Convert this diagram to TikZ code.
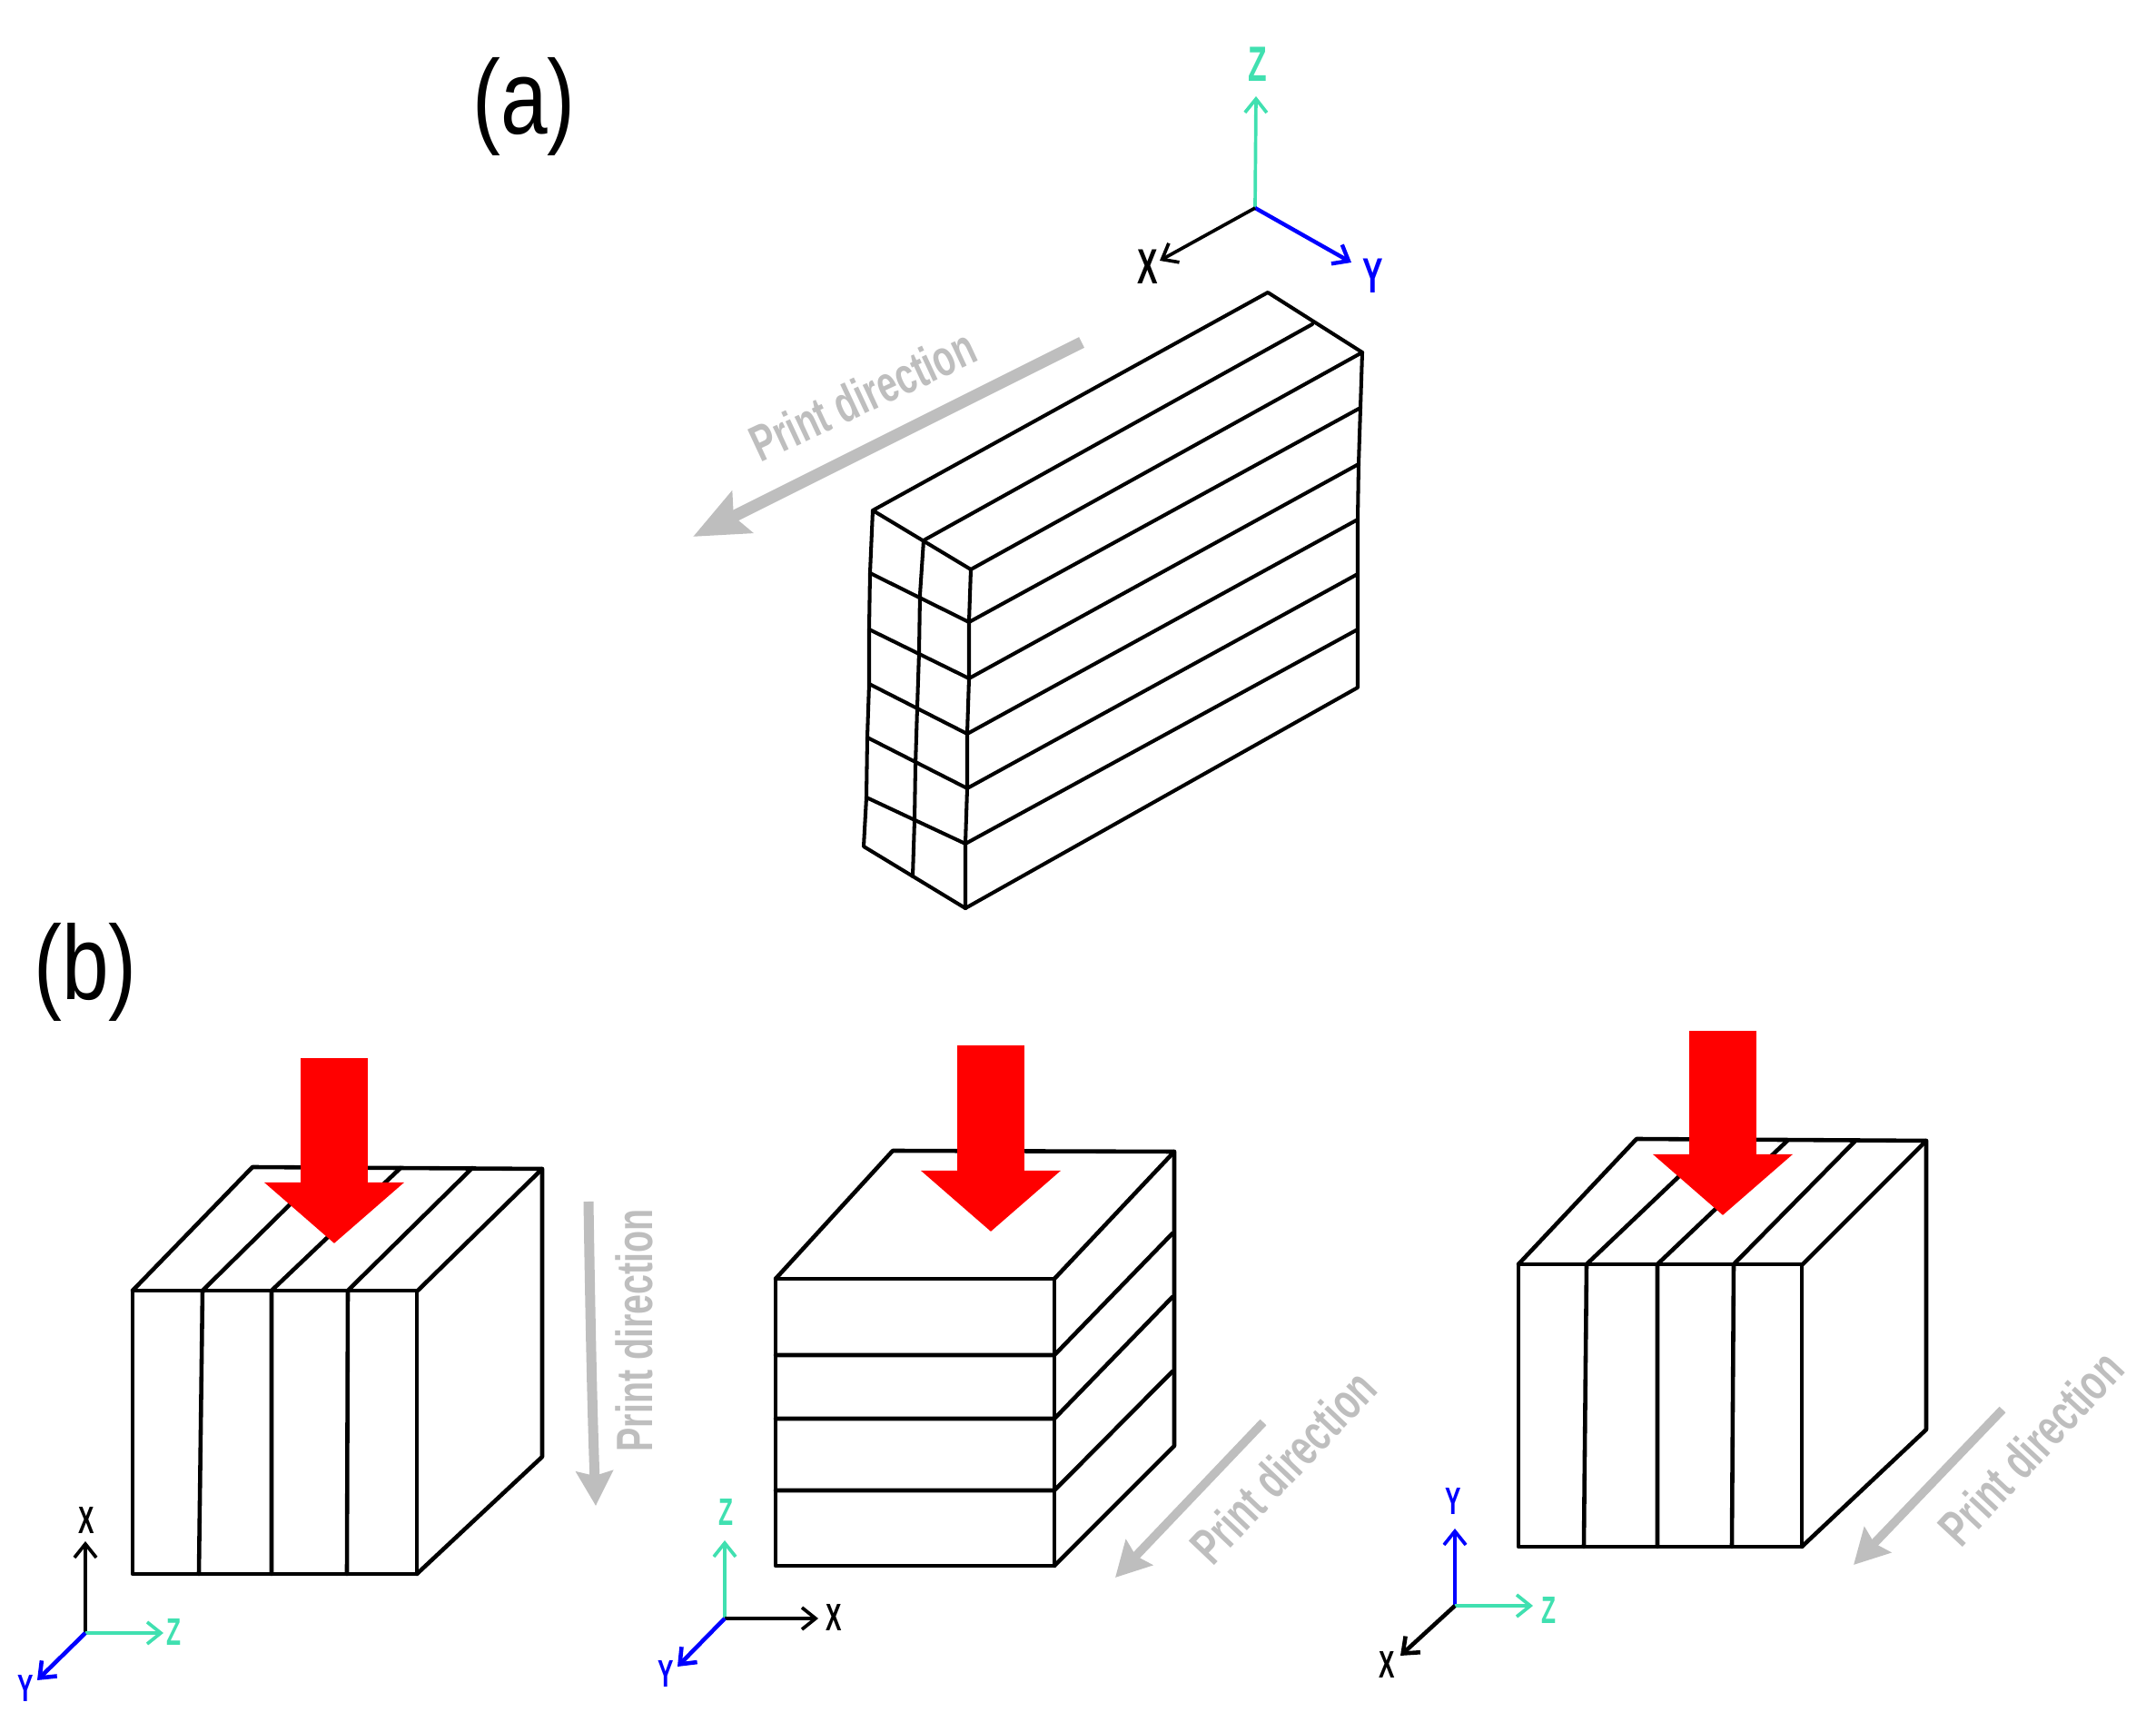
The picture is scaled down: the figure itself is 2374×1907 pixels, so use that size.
\documentclass[tikz,border=0pt]{standalone}
\usepackage{fontspec}
\usetikzlibrary{arrows.meta}
\newfontfamily\sketchfont[FakeStretch=0.62]{Liberation Sans}
\newfontfamily\printfont[FakeStretch=0.7]{Liberation Sans}
\newfontfamily\panelfont[FakeStretch=0.8]{Liberation Sans}
\definecolor{axisz}{RGB}{64,224,176}
\definecolor{axisy}{RGB}{0,0,255}
\definecolor{printgrey}{RGB}{190,190,190}
\tikzset{
  edge/.style={black,line width=1.3pt,line cap=round,line join=round},
  thinedge/.style={black,line width=1.15pt,line cap=round,line join=round},
  axisarrow/.style={line width=1.05pt,-{Straight Barb[length=1.5mm,width=2.4mm]}},
  bigaxis/.style={font=\sketchfont\bfseries\fontsize{15.5}{16}\selectfont,inner sep=0pt},
  smallaxis/.style={font=\sketchfont\bfseries\fontsize{12}{13}\selectfont,inner sep=0pt},
  printarrow/.style={printgrey,line width=0.13cm,-{Stealth[length=0.6cm,width=0.5cm,inset=0.1cm]}},
  printarrowsmall/.style={printgrey,line width=0.095cm,-{Stealth[length=0.38cm,width=0.4cm,inset=0.05cm]}},
  printlabel/.style={printgrey,font=\printfont\bfseries\fontsize{16}{17}\selectfont,inner sep=0pt},
  loadarrow/.style={red,line width=0.735cm,-{Triangle[length=0.67cm,width=1.5cm]}},
  panellabel/.style={font=\panelfont\fontsize{33}{36}\selectfont,inner sep=0pt}
}
\begin{document}
\begin{tikzpicture}[x=0.01cm,y=-0.01cm]
  \useasboundingbox (0,0) rectangle (2374,1907);

  \node[panellabel] (labela) at (577,117) {(a)};
  \node[panellabel] (labelb) at (94,1070) {(b)};

  \draw[thinedge] (961,562) -- (1396,322) -- (1500,388) -- (1069,627) -- cycle;
  \draw[thinedge] (1017,595) -- (1445,357);
  \draw[thinedge] (1500,388) -- (1498,449) -- (1496,511) -- (1495,572) -- (1495,632) -- (1495,693) -- (1495,757) -- (1063,1000);
  \draw[thinedge] (1069,627) -- (1067,685) -- (1067,747) -- (1065,808) -- (1065,868) -- (1063,929) -- (1063,1000);
  \draw[thinedge] (961,562) -- (958,631) -- (957,693) -- (957,753) -- (955,812) -- (954,878) -- (951,932) -- (1063,1000);
  \draw[thinedge] (1017,595) -- (1013,655) -- (1012,718) -- (1010,779) -- (1008,843) -- (1007,903) -- (1005,965);
  \foreach \xl/\yl/\xf/\yf/\xr/\yr in {958/631/1067/685/1498/449,957/693/1067/747/1496/511,957/753/1065/808/1495/572,955/812/1065/868/1495/632,954/878/1063/929/1495/693}
    \draw[thinedge] (\xl,\yl) -- (\xf,\yf) -- (\xr,\yr);

  \draw[axisarrow,axisz] (1382,229) -- (1383,106);
  \draw[axisarrow,axisy,line width=1.25pt] (1382,229) -- (1488,289);
  \draw[axisarrow,black] (1382,229) -- (1277,287);
  \node[bigaxis,text=axisz] (za) at (1385,71) {Z};
  \node[bigaxis,text=axisy] (ya) at (1512,304) {Y};
  \node[bigaxis,text=black] (xa) at (1264,294) {X};

  \draw[printarrow] (1191,377) -- (763,591);
  \node[printlabel,rotate=25] (printa) at (950,435) {Print direction};

  \draw[edge] (146,1421) rectangle (459,1733);
  \draw[edge] (146,1421) -- (278,1285) -- (597,1287) -- (460,1421);
  \draw[edge] (597,1287) -- (597,1604) -- (459,1733);
  \foreach \xf/\xe/\xb in {223/219/360,299/299/441,383/382/520}
    \draw[edge] (\xb,1286) -- (\xf,1421) -- (\xe,1733);
  \draw[loadarrow] (368,1165) -- (368,1369);

  \draw[printarrowsmall,line width=0.11cm] (648,1323) .. controls (650,1450) and (652,1550) .. (656,1658);
  \node[printlabel,rotate=90] (printb) at (698,1465) {Print direction};

  \draw[axisarrow,black] (94,1798) -- (94,1697);
  \draw[axisarrow,axisz] (94,1798) -- (180,1798);
  \draw[axisarrow,axisy,line width=1.3pt] (94,1798) -- (41,1850);
  \node[smallaxis,text=black] (xb) at (95,1674) {X};
  \node[smallaxis,text=axisz] (zb) at (191,1797) {Z};
  \node[smallaxis,text=axisy] (yb) at (28,1859) {Y};

  \draw[edge] (854,1408) rectangle (1161,1724);
  \draw[edge] (854,1408) -- (983,1267) -- (1293,1268) -- (1161,1408);
  \draw[edge] (1293,1268) -- (1293,1592) -- (1161,1724);
  \foreach \yf/\yb in {1492/1358,1562/1428,1641/1510}
    \draw[edge] (854,\yf) -- (1161,\yf) -- (1291,\yb);
  \draw[loadarrow] (1091,1151) -- (1091,1356);

  \draw[printarrowsmall] (1391,1566) -- (1228,1737);
  \node[printlabel,rotate=46.5] (printc) at (1413,1615) {Print direction};

  \draw[axisarrow,axisz] (798,1782) -- (798,1696);
  \draw[axisarrow,black] (798,1782) -- (901,1782);
  \draw[axisarrow,axisy,line width=1.3pt] (798,1782) -- (746,1835);
  \node[smallaxis,text=axisz] (zc) at (799,1665) {Z};
  \node[smallaxis,text=black] (xc) at (918,1781) {X};
  \node[smallaxis,text=axisy] (yc) at (733,1843) {Y};

  \draw[edge] (1672,1392) rectangle (1984,1703);
  \draw[edge] (1672,1392) -- (1802,1254) -- (2121,1256) -- (1985,1392);
  \draw[edge] (2121,1256) -- (2121,1574) -- (1984,1703);
  \foreach \xf/\xe/\xb in {1747/1744/1890,1825/1825/1968,1909/1907/2043}
    \draw[edge] (\xb,1256) -- (\xf,1392) -- (\xe,1703);
  \draw[loadarrow] (1897,1135) -- (1897,1338);

  \draw[printarrowsmall] (2205,1552) -- (2041,1723);
  \node[printlabel,rotate=47] (printd) at (2236,1594) {Print direction};

  \draw[axisarrow,axisy] (1602,1768) -- (1602,1683);
  \draw[axisarrow,axisz] (1602,1768) -- (1688,1768);
  \draw[axisarrow,black,line width=1.3pt] (1602,1768) -- (1542,1823);
  \node[smallaxis,text=axisy] (yd) at (1600,1653) {Y};
  \node[smallaxis,text=axisz] (zd) at (1705,1773) {Z};
  \node[smallaxis,text=black] (xd) at (1527,1833) {X};
\end{tikzpicture}
\end{document}
